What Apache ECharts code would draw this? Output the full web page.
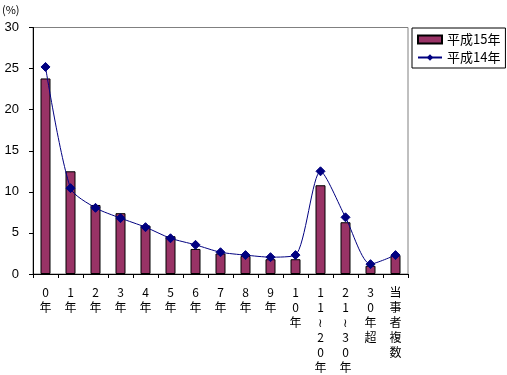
<!DOCTYPE html>
<html><head><meta charset="utf-8">
<script src="https://cdn.jsdelivr.net/npm/echarts@6/dist/echarts.min.js"></script>
<style>html,body{margin:0;padding:0;background:#fff}#c{width:507px;height:375px}</style>
</head><body><div id="c"></div>
<script>
const categories = ['0\n年','1\n年','2\n年','3\n年','4\n年','5\n年','6\n年','7\n年','8\n年','9\n年','1\n0\n年','1\n1\n≀\n2\n0\n年','2\n1\n≀\n3\n0\n年','3\n0\n年\n超','当\n事\n者\n複\n数'];
const h15 = [23.8, 12.5, 8.4, 7.4, 5.9, 4.6, 3.05, 2.5, 2.2, 1.8, 1.8, 10.8, 6.3, 1.0, 2.3];
const h14 = [25.2, 10.45, 8.05, 6.8, 5.7, 4.35, 3.55, 2.65, 2.3, 2.05, 2.3, 12.5, 6.9, 1.2, 2.3];
const seriesNames = ['平成15年', '平成14年'];
const yTicks = { min: 0, max: 30, interval: 5 };

const font = '"Noto Sans CJK JP", sans-serif';
const chart = echarts.init(document.getElementById('c'));
chart.setOption({
  animation: false,
  textStyle: { fontFamily: font, color: '#000' },
  grid: { left: 33, right: 99, top: 27.5, bottom: 101, show: true, borderColor: '#808080', borderWidth: 1, backgroundColor: 'transparent' },
  graphic: [{ type: 'text', left: 2, top: 4, style: { text: '(%)', font: '11px ' + font, fill: '#000' } }],
  legend: {
    orient: 'vertical', left: 412, top: 28, padding: [5, 5, 4, 5], itemGap: 5,
    borderColor: '#000', borderWidth: 1, itemWidth: 24, itemHeight: 8,
    textStyle: { fontSize: 13, fontFamily: font, color: '#000' },
    data: [{ name: seriesNames[0], icon: 'rect' }, { name: seriesNames[1] }]
  },
  xAxis: {
    type: 'category', data: categories, boundaryGap: true,
    axisLine: { lineStyle: { color: '#000', width: 1 } },
    axisTick: { show: true, inside: false, length: 4, interval: 0, alignWithLabel: false, lineStyle: { color: '#000' } },
    axisLabel: { interval: 0, fontSize: 12, lineHeight: 15, margin: 11, color: '#000', fontFamily: font, verticalAlign: 'top' },
    splitLine: { show: false }
  },
  yAxis: {
    type: 'value', min: yTicks.min, max: yTicks.max, interval: yTicks.interval,
    axisLine: { show: true, lineStyle: { color: '#000', width: 1 } },
    axisTick: { show: true, inside: false, length: 4, lineStyle: { color: '#000' } },
    axisLabel: { fontSize: 13, color: '#000', fontFamily: 'Liberation Sans, Arial, sans-serif', margin: 14 },
    splitLine: { show: false }
  },
  series: [
    { name: seriesNames[0], type: 'bar', data: h15, barWidth: 10,
      itemStyle: { color: '#993366', borderColor: '#000', borderWidth: 1 } },
    { name: seriesNames[1], type: 'line', data: h14, smooth: 0.25,
      symbol: 'diamond', symbolSize: 9,
      lineStyle: { color: '#000080', width: 1 },
      itemStyle: { color: '#000080', borderColor: '#000080' } }
  ]
});
</script></body></html>
